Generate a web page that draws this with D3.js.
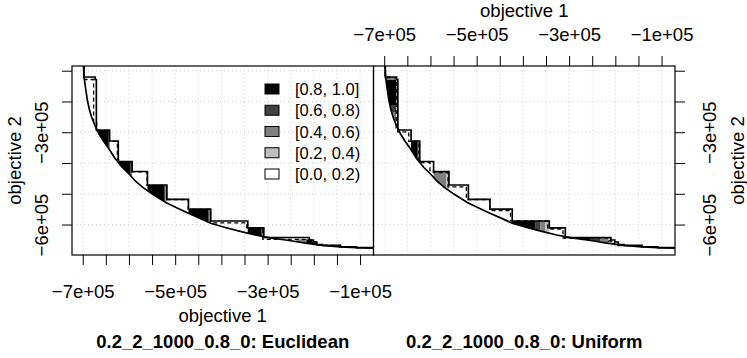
<!DOCTYPE html>
<html>
<head>
<meta charset="utf-8">
<script src="https://cdn.jsdelivr.net/npm/d3@7"></script>
<style>
  body { margin: 0; background: #fff; }
  svg text { font-family: "Liberation Sans", Arial, Helvetica, sans-serif; fill: #000; }
</style>
</head>
<body>
<svg id="chart" width="747" height="358"></svg>
<script>
// ---- data (objective values) ----
const xTicks = [-700000, -650000, -600000, -550000, -500000, -450000, -400000,
  -350000, -300000, -250000, -200000, -150000, -100000];
const xLabelValues = [-700000, -500000, -300000, -100000];
const xLabelText = ['\u22127e+05', '\u22125e+05', '\u22123e+05', '\u22121e+05'];
const yTicks = [-100000, -200000, -300000, -400000, -500000, -600000];
const yLabelValues = [-300000, -600000];
const yLabelText = ['\u22123e+05', '\u22126e+05'];

const panelTitles = ['0.2_2_1000_0.8_0: Euclidean', '0.2_2_1000_0.8_0: Uniform'];
const legendLabels = ['[0.8, 1.0]', '[0.6, 0.8)', '[0.4, 0.6)', '[0.2, 0.4)', '[0.0, 0.2)'];
const legendLevels = [4, 3, 2, 1, 0];
const levelColors = ['#FFFFFF', '#BEBEBE', '#808080', '#404040', '#000000'];

// best attainment surface of both runs (lower solid line)
const bestX = [-698700, -698300, -697000, -693900, -690000, -685300, -680500, -676600, -671800,
  -664700, -656000, -643000, -630000, -614200, -599700, -585200, -569300, -549200, -520200,
  -495700, -471200, -445800, -423100, -391700, -359200, -326700, -294200, -253000, -218300,
  -181500, -142500, -107800, -50000];
const bestY = [-60000, -84700, -121000, -156200, -195200, -227700, -252100, -266700, -284600,
  -305700, -326900, -354500, -385400, -414600, -435700, -460000, -480000, -501000, -528000,
  -546000, -563500, -580000, -596000, -609500, -622000, -634000, -643500, -651900, -660600,
  -667500, -672300, -675300, -677800];

// worst attainment surface (upper solid staircase)
const worstX = [-698700, -697600, -673300, -670500, -641900, -623100, -593200, -560000, -518000,
  -471200, -423100, -342900, -308200, -209700, -201000, -193400, -181500, -142500, -107800, -50000];
const worstY = [-60000, -120500, -128600, -292700, -328500, -395100, -427600, -471500, -518000,
  -550100, -588500, -610600, -642100, -650200, -656700, -665200, -667500, -672300, -675300, -677800];

// median attainment surfaces (dashed)
const medLeftX = [-698000, -696500, -676400, -669900, -642400, -625000, -622400, -593600, -560700,
  -518400, -471800, -423500, -345100, -310400, -210500, -201800, -194500, -181500, -142500,
  -107800, -50000];
const medLeftY = [-60000, -128600, -270000, -294700, -329500, -388600, -396100, -428600, -472500,
  -518600, -550800, -594300, -612900, -648000, -653500, -663200, -666500, -667500, -672300,
  -675300, -677800];
const medRightX = [-698700, -698000, -674200, -670700, -646900, -624800, -601000, -593400, -562000,
  -522300, -471800, -427000, -346400, -313200, -215300, -202300, -194700, -181500, -142500,
  -107800, -50000];
const medRightY = [-60000, -122100, -286200, -298600, -329500, -398700, -427600, -431200, -477300,
  -518600, -554700, -587800, -614500, -643700, -653500, -664900, -668100, -668500, -672300,
  -675300, -677800];

// difference regions: [x0, x1, y0, y1, level]
const fillsLeft = [
  [-670500, -666800, -292700, -700000, 2], [-666800, -645200, -292700, -700000, 4], [-645200, -641900, -292700, -700000, 3],
  [-623100, -597500, -395100, -700000, 4], [-597500, -595500, -395100, -700000, 3], [-595500, -593200, -395100, -700000, 2],
  [-560000, -524000, -471500, -700000, 4], [-524000, -522000, -471500, -700000, 3], [-522000, -520000, -471500, -700000, 2], [-520000, -518000, -471500, -700000, 1],
  [-471200, -429000, -550100, -700000, 4], [-429000, -427000, -550100, -700000, 3], [-427000, -425000, -550100, -700000, 2], [-425000, -423100, -550100, -700000, 1],
  [-342900, -314000, -610600, -700000, 4], [-314000, -312000, -610600, -700000, 3], [-312000, -310000, -610600, -700000, 2], [-310000, -308200, -610600, -700000, 1],
  [-237800, -216200, -648000, -700000, 2], [-216200, -203100, -648000, -700000, 4], [-203100, -194500, -653500, -700000, 3],
];
const fillsRight = [
  [-699600, -673600, -120500, -130200, 2], [-699600, -673600, -130200, -211500, 4], [-699600, -673600, -211500, -234200, 3],
  [-687600, -673600, -234200, -260200, 2], [-683300, -673600, -260200, -286200, 1],
  [-641900, -629000, -328500, -700000, 4], [-629000, -626000, -328500, -700000, 3], [-626000, -623100, -328500, -700000, 2],
  [-593200, -566300, -427600, -700000, 2], [-566300, -560000, -427600, -700000, 1],
  [-423100, -373500, -588500, -700000, 4], [-373500, -362600, -588500, -700000, 3], [-362600, -351800, -588500, -700000, 2], [-351800, -342900, -588500, -700000, 1],
  [-308200, -254300, -642100, -700000, 4], [-254300, -232600, -642100, -700000, 3], [-232600, -215300, -642100, -700000, 2], [-215300, -206600, -642100, -700000, 1],
];

// ---- drawing ----
const svg = d3.select('#chart');
const defs = svg.append('defs');
const plotTop = 66, plotBottom = 255;
const fs = 18.5;
const capHalf = 6.6;

const y = d3.scaleLinear().domain([-84700, -699000]).range([plotTop, plotBottom]);
const xDomain = [-723200, -70900];
const panels = [
  { x: d3.scaleLinear().domain(xDomain).range([72, 373.5]), fills: fillsLeft, medX: medLeftX, medY: medLeftY },
  { x: d3.scaleLinear().domain(xDomain).range([373.5, 675]), fills: fillsRight, medX: medRightX, medY: medRightY },
];

const best = bestX.map((v, i) => [v, bestY[i]]);
const worst = worstX.map((v, i) => [v, worstY[i]]);

panels.forEach((p, i) => {
  const [left, right] = p.x.range();
  const line = d3.line().x((d) => p.x(d[0])).y((d) => y(d[1]));

  defs.append('clipPath').attr('id', `panel${i}`)
    .append('rect').attr('x', left).attr('y', plotTop).attr('width', right - left).attr('height', plotBottom - plotTop);
  // area between best surface and top-right corner
  const region = best.concat([[bestX[bestX.length - 1], -40000], [bestX[0], -40000]]);
  defs.append('clipPath').attr('id', `region${i}`)
    .append('path').attr('d', line(region) + 'Z');

  const g = svg.append('g').attr('clip-path', `url(#panel${i})`);

  // grid
  g.selectAll('line.gx').data(xTicks).join('line')
    .attr('x1', (d) => p.x(d)).attr('x2', (d) => p.x(d))
    .attr('y1', plotTop).attr('y2', plotBottom)
    .attr('stroke', '#d0d0d0').attr('stroke-dasharray', '1,3');
  g.selectAll('line.gy').data(yTicks).join('line')
    .attr('y1', (d) => y(d)).attr('y2', (d) => y(d))
    .attr('x1', left).attr('x2', right)
    .attr('stroke', '#d0d0d0').attr('stroke-dasharray', '1,3');

  // difference fills
  g.append('g').attr('clip-path', `url(#region${i})`)
    .selectAll('rect').data(p.fills).join('rect')
    .attr('x', (d) => p.x(d[0]))
    .attr('width', (d) => p.x(d[1]) - p.x(d[0]))
    .attr('y', (d) => y(d[2]))
    .attr('height', (d) => y(d[3]) - y(d[2]))
    .attr('fill', (d) => levelColors[d[4]]);

  const med = p.medX.map((v, k) => [v, p.medY[k]]);
  g.append('path').attr('d', line.curve(d3.curveStepAfter)(med))
    .attr('fill', 'none').attr('stroke', '#000').attr('stroke-width', 1.3)
    .attr('stroke-dasharray', '4,3');
  g.append('path').attr('d', line.curve(d3.curveStepAfter)(worst))
    .attr('fill', 'none').attr('stroke', '#000').attr('stroke-width', 1.7);
  g.append('path').attr('d', line.curve(d3.curveLinear)(best))
    .attr('fill', 'none').attr('stroke', '#000').attr('stroke-width', 1.7);

  svg.append('rect').attr('x', left).attr('y', plotTop)
    .attr('width', right - left).attr('height', plotBottom - plotTop)
    .attr('fill', 'none').attr('stroke', '#000').attr('stroke-width', 1.2);

  // title under each panel
  svg.append('text').attr('x', (left + right) / 2).attr('y', 341.5 + capHalf)
    .attr('text-anchor', 'middle').attr('font-weight', 'bold').attr('font-size', fs)
    .text(panelTitles[i]);
});

function xFormat(v) {
  const k = xLabelValues.indexOf(v);
  return k < 0 ? '' : xLabelText[k];
}
function yFormat(v) {
  const k = yLabelValues.indexOf(v);
  return k < 0 ? '' : yLabelText[k];
}
function styleAxis(g) {
  g.select('.domain').remove();
  g.attr('font-family', null).attr('font-size', fs);
  g.selectAll('.tick line').attr('stroke', '#000').attr('stroke-width', 1);
}

// left panel: bottom and left axes
const pl = panels[0], pr = panels[1];
svg.append('g').attr('transform', `translate(0,${plotBottom})`)
  .call(d3.axisBottom(pl.x).tickValues(xTicks).tickSize(10).tickPadding(20.2).tickFormat(xFormat))
  .call(styleAxis);
svg.append('g').attr('transform', 'translate(72,0)')
  .call(d3.axisLeft(y).tickValues(yTicks).tickSize(10).tickFormat(yFormat))
  .call(styleAxis)
  .selectAll('text')
  .attr('x', null).attr('dy', null).attr('text-anchor', 'middle')
  .attr('transform', `translate(${-31 + capHalf},0) rotate(-90)`);

// right panel: top and right axes
svg.append('g').attr('transform', `translate(0,${plotTop})`)
  .call(d3.axisTop(pr.x).tickValues(xTicks).tickSize(10).tickPadding(15.4).tickFormat(xFormat))
  .call(styleAxis);
svg.append('g').attr('transform', 'translate(675,0)')
  .call(d3.axisRight(y).tickValues(yTicks).tickSize(10).tickFormat(yFormat))
  .call(styleAxis)
  .selectAll('text')
  .attr('x', null).attr('dy', null).attr('text-anchor', 'middle')
  .attr('transform', `translate(${34 + capHalf},0) rotate(-90)`);

// axis titles
const midY = (plotTop + plotBottom) / 2;
svg.append('text').attr('x', 222.7).attr('y', 315 + capHalf)
  .attr('text-anchor', 'middle').attr('font-size', fs).text('objective 1');
svg.append('text').attr('x', 524.3).attr('y', 10 + capHalf)
  .attr('text-anchor', 'middle').attr('font-size', fs).text('objective 1');
svg.append('text').attr('transform', `translate(${14 + capHalf},${midY}) rotate(-90)`)
  .attr('text-anchor', 'middle').attr('font-size', fs).text('objective 2');
svg.append('text').attr('transform', `translate(${737 + capHalf},${midY}) rotate(-90)`)
  .attr('text-anchor', 'middle').attr('font-size', fs).text('objective 2');

// legend
const legend = svg.append('g').attr('transform', 'translate(265,84)');
legendLabels.forEach((lab, k) => {
  legend.append('rect').attr('x', 0).attr('y', k * 21.25).attr('width', 14).attr('height', 10)
    .attr('fill', levelColors[legendLevels[k]]).attr('stroke', '#000').attr('stroke-width', 1);
  legend.append('text').attr('x', 30).attr('y', k * 21.25 + 5 + 6)
    .attr('font-size', 16.5).text(lab);
});
</script>
</body>
</html>
